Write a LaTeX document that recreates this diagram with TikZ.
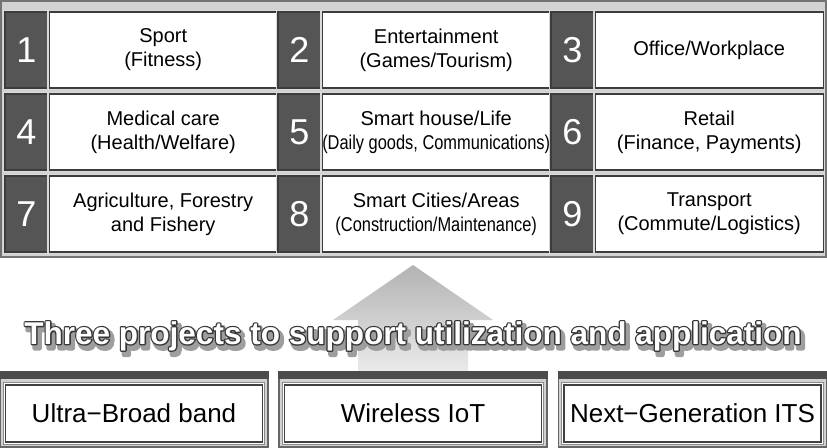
\documentclass[tikz,border=0pt]{standalone}
\usepackage{fontspec}
\setmainfont{Liberation Sans}
\usepackage{graphicx}
\usetikzlibrary{positioning,calc}

\definecolor{cellgray}{HTML}{555555}
\definecolor{edgegray}{HTML}{3C3C3C}
\definecolor{panelgray}{HTML}{D2D2D2}

\newcommand{\narrow}[1]{\scalebox{0.82}[1]{#1}}
% stroked text: grey level #1, line width #2
\newcommand{\stroked}[3]{\special{pdf:literal direct 1 Tr 1 j #2 w #1 G}#3\special{pdf:literal direct 0 Tr}}
\newcommand{\outlined}[1]{\rlap{\stroked{0.22}{2.6}{#1}}#1}

\begin{document}
\begin{tikzpicture}[x=1pt,y=-1pt,inner sep=0pt,
  numbox/.style={rectangle,fill=cellgray,draw=edgegray,line width=1.2pt,
    preaction={draw=white!85!black,line width=4pt},
    minimum width=43pt,minimum height=76pt,text=white,
    font=\fontsize{36}{36}\selectfont},
  fieldbox/.style={rectangle,fill=white,draw=edgegray,line width=1.2pt,
    preaction={draw=white!85!black,line width=4pt},
    minimum width=228pt,minimum height=76pt,align=center,
    font=\fontsize{20}{24}\selectfont},
  projbox/.style={rectangle,fill=black!18,draw=black!60,line width=1.2pt,
    minimum width=268pt,minimum height=75pt},
  projtext/.style={rectangle,fill=white,draw=black!75,line width=1.2pt,
    preaction={draw=black!45,line width=5.5pt},
    preaction={draw=white,line width=3.5pt},
    minimum width=257pt,minimum height=57pt,
    font=\fontsize{26}{26}\selectfont},
  titletext/.style={font=\fontsize{31.5}{32}\selectfont\bfseries}]

  \useasboundingbox (0,0) rectangle (827,447);

  % fields of application
  \draw[fill=panelgray,draw=black!55,line width=2pt] (1,1) rectangle (826,257);

  \node[numbox] (n1) at (26.5,50) {1};
  \node[fieldbox,right=0pt of n1] (f1) {Sport\\(Fitness)};
  \node[numbox] (n2) at (299.5,50) {2};
  \node[fieldbox,right=0pt of n2] (f2) {Entertainment\\(Games/Tourism)};
  \node[numbox] (n3) at (572.5,50) {3};
  \node[fieldbox,right=0pt of n3] (f3) {Office/Workplace};

  \node[numbox] (n4) at (26.5,132) {4};
  \node[fieldbox,right=0pt of n4] (f4) {Medical care\\(Health/Welfare)};
  \node[numbox] (n5) at (299.5,132) {5};
  \node[fieldbox,right=0pt of n5] (f5) {Smart house/Life\\\narrow{(Daily goods, Communications)}};
  \node[numbox] (n6) at (572.5,132) {6};
  \node[fieldbox,right=0pt of n6] (f6) {Retail\\(Finance, Payments)};

  \node[numbox] (n7) at (26.5,214) {7};
  \node[fieldbox,right=0pt of n7] (f7) {Agriculture, Forestry\\and Fishery};
  \node[numbox] (n8) at (299.5,214) {8};
  \node[fieldbox,right=0pt of n8] (f8) {Smart Cities/Areas\\\narrow{(Construction/Maintenance)}};
  \node[numbox] (n9) at (572.5,214) {9};
  \node[fieldbox,right=0pt of n9] (f9) {Transport\\(Commute/Logistics)};

  % big arrow
  \shade[top color=black!30,bottom color=black!8]
    (358,372) -- (358,320) -- (333,320) -- (413,265) -- (493,320)
    -- (468,320) -- (468,372) -- cycle;

  % the three projects
  \node[titletext,text=black!40] (titleshade) at (416,340)
    {\stroked{0.62}{5}{Three projects to support utilization and application}};
  \node[titletext,text=white] (title) at (413,336)
    {\outlined{Three projects to support utilization and application}};

  \node[projbox] (b1) at (134,409.5) {};
  \node[projbox] (b2) at (413,409.5) {};
  \node[projbox] (b3) at (692.5,409.5) {};
  \foreach \b in {b1,b2,b3}
    \fill[black!70] (\b.north west) rectangle ($(\b.north east)+(0,8)$);

  \node[projtext] (p1) at ($(b1)+(0,4)$) {Ultra−Broad band};
  \node[projtext] (p2) at ($(b2)+(0,4)$) {Wireless IoT};
  \node[projtext] (p3) at ($(b3)+(0,4)$) {Next−Generation ITS};

\end{tikzpicture}
\end{document}
